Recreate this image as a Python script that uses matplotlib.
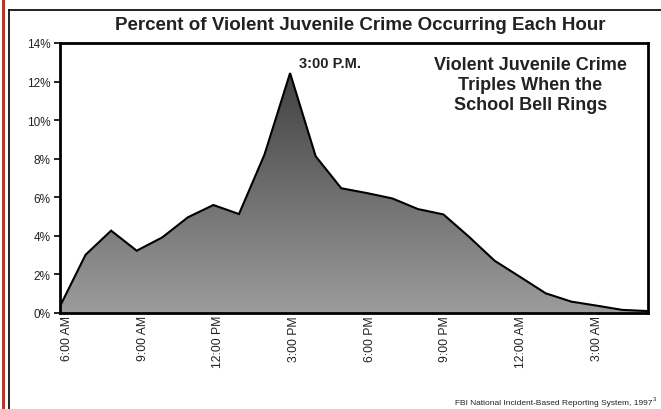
import matplotlib
matplotlib.use("Agg")
import matplotlib.pyplot as plt
import numpy as np
from matplotlib.lines import Line2D
from matplotlib.colors import LinearSegmentedColormap
from matplotlib.transforms import ScaledTranslation

plt.rcParams['font.family'] = ['Liberation Sans', 'DejaVu Sans']

hours = ["6:00 AM", "7:00 AM", "8:00 AM", "9:00 AM", "10:00 AM", "11:00 AM",
         "12:00 PM", "1:00 PM", "2:00 PM", "3:00 PM", "4:00 PM", "5:00 PM",
         "6:00 PM", "7:00 PM", "8:00 PM", "9:00 PM", "10:00 PM", "11:00 PM",
         "12:00 AM", "1:00 AM", "2:00 AM", "3:00 AM", "4:00 AM", "5:00 AM"]
percent = [0.35, 3.02, 4.27, 3.23, 3.92, 4.96,
           5.60, 5.13, 8.22, 12.44, 8.13, 6.47,
           6.22, 5.94, 5.39, 5.11, 3.95, 2.71,
           1.87, 1.02, 0.59, 0.38, 0.16, 0.10]
tick_hours = ["6:00 AM", "9:00 AM", "12:00 PM", "3:00 PM",
              "6:00 PM", "9:00 PM", "12:00 AM", "3:00 AM"]
y_ticks = [0, 2, 4, 6, 8, 10, 12, 14]

W, H = 661, 410
fig = plt.figure(figsize=(W / 100, H / 100), dpi=100)
fig.patch.set_facecolor("white")

ax = fig.add_axes([60 / W, 1 - 314 / H, (648 - 60) / W, (314 - 44) / H])
x = np.arange(len(hours))
y = np.array(percent)

ax.set_xlim(0, len(hours) - 1)
ax.set_ylim(0, 14)

# gradient fill clipped to area
poly = ax.fill_between(x, y, 0, facecolor="none", edgecolor="none")
cmap = LinearSegmentedColormap.from_list("g", ["#9c9c9c", "#363636"])
grad = np.linspace(0, 1, 256).reshape(-1, 1)
im = ax.imshow(grad, extent=[0, len(hours) - 1, 0, 14], origin="lower",
               aspect="auto", cmap=cmap, zorder=1)
path = poly.get_paths()[0]
im.set_clip_path(path, transform=ax.transData)
ax.plot(x, y, color="black", lw=1.5, zorder=3, solid_joinstyle="miter")

for s in ax.spines.values():
    s.set_linewidth(2.0)
    s.set_color("black")
    s.set_zorder(4)

ax.set_yticks(y_ticks)
ax.set_yticklabels([f"{v}%" for v in y_ticks], fontsize=8.5, color="#222222")
ax.tick_params(axis="y", length=4, width=1.2, direction="out", pad=3)
ax.set_xticks([hours.index(h) for h in tick_hours])
ax.set_xticklabels(tick_hours, rotation=90, fontsize=8.8, color="#222222")
ax.tick_params(axis="x", length=0, pad=1.5)
n = len(tick_hours)
for i, lbl in enumerate(ax.get_xticklabels()):
    dx = 7.0 * (1 - i / (n - 1)) / 100.0
    lbl.set_transform(lbl.get_transform() + ScaledTranslation(dx, 0, fig.dpi_scale_trans))

peak = int(np.argmax(y))
ax.text(x[peak] + 1.55, 12.75, "3:00 P.M.", ha="center", va="baseline",
        fontsize=10.5, fontweight="bold", color="#222222")

ax.text(18.4, 13.35, "Violent Juvenile Crime\nTriples When the\nSchool Bell Rings",
        ha="center", va="top", fontsize=13, fontweight="bold",
        color="#222222", linespacing=1.25)

fig.text(360 / W, 1 - 25.5 / H, "Percent of Violent Juvenile Crime Occurring Each Hour",
         ha="center", va="center", fontsize=13.5, fontweight="bold", color="#222222")

fig.text(652 / W, 1 - 404 / H, "FBI National Incident-Based Reporting System, 1997",
         ha="right", va="center", fontsize=6.0, color="#222222")
fig.text(653 / W, 1 - 400 / H, "3", ha="left", va="center", fontsize=4.2, color="#222222")

# page frame lines
fig.add_artist(Line2D([3 / W, 3 / W], [0, 1], color="#b0392e", lw=2.2,
                      transform=fig.transFigure))
fig.add_artist(Line2D([9 / W, 9 / W], [0, 1 - 10.5 / H], color="#111111", lw=1.3,
                      transform=fig.transFigure))
fig.add_artist(Line2D([9 / W, 1], [1 - 10.5 / H, 1 - 10.5 / H], color="#111111", lw=1.3,
                      transform=fig.transFigure))

fig.savefig("out.png", dpi=100)
